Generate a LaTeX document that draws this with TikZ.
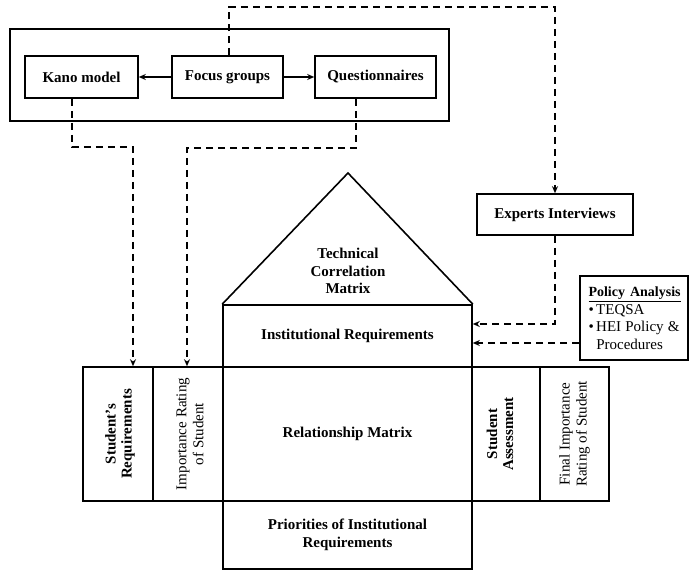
\documentclass[tikz,border=0pt]{standalone}
\usepackage{fontspec}
\setmainfont{Liberation Serif}
\usetikzlibrary{arrows.meta}
\begin{document}
\begin{tikzpicture}[x=1pt,y=-1pt,
  box/.style={draw, line width=1.6pt, inner sep=0pt, align=center,
    font=\bfseries\fontsize{15}{17.5}\selectfont},
  frame/.style={draw, line width=2pt, inner sep=0pt},
  lbl/.style={align=center, font=\bfseries\fontsize{15}{17.5}\selectfont},
  vlbl/.style={rotate=90, align=center, inner sep=0pt,
    font=\fontsize{15}{17}\selectfont},
  dashlink/.style={line width=1.8pt, dash pattern=on 7pt off 5pt,
    -{Stealth[length=7pt,width=6pt]}},
  solidlink/.style={line width=1.6pt, -{Stealth[length=7pt,width=6pt]}},
]
\useasboundingbox (0,0) rectangle (689,570);

% data collection group
\node[frame, minimum width=439pt, minimum height=92pt] (group) at (229.5,75) {};
\node[box, minimum width=113pt, minimum height=42pt] (kano) at (81.5,77) {Kano model};
\node[box, minimum width=111pt, minimum height=42pt] (focus) at (227.5,77) {Focus groups};
\node[box, minimum width=121pt, minimum height=42pt] (quest) at (375.5,77) {Questionnaires};
\draw[solidlink] (focus.west) -- (kano.east);
\draw[solidlink] (focus.east) -- (quest.west);

% experts and policy inputs
\node[box, minimum width=156pt, minimum height=41pt] (experts) at (555,214.5) {Experts Interviews};
\node[draw, line width=1.6pt, minimum width=108pt, minimum height=84pt,
  text width=91pt, inner xsep=8.5pt, inner ysep=0pt, align=left,
  font=\fontsize{15}{17.5}\selectfont] (policy) at (634,318)
  {{\fontsize{14}{17}\selectfont\textbf{\underline{Policy Analysis}}}\\
   \textbullet\,TEQSA\\
   \textbullet\,HEI\hfill Policy\hfill\&\\
   \hphantom{\textbullet\,}Procedures};

% house of quality
\node[box, minimum width=249pt, minimum height=62pt] (inst) at (347.5,336) {Institutional Requirements};
\coordinate (apex) at (348,173);
\draw[line width=1.6pt, line join=miter] (inst.north west) -- (apex) -- (inst.north east);
\node[lbl] (tcm) at (348,271) {Technical\\Correlation\\Matrix};
\node[box, minimum width=249pt, minimum height=134pt] (relm) at (347.5,434) {Relationship Matrix};
\node[box, minimum width=249pt, minimum height=68pt] (prio) at (347.5,535) {Priorities of Institutional\\Requirements};

\node[box, minimum width=70pt, minimum height=134pt] (sreq) at (118,434) {};
\node[box, minimum width=70pt, minimum height=134pt] (irat) at (188,434) {};
\node[box, minimum width=68pt, minimum height=134pt] (sass) at (506,434) {};
\node[box, minimum width=69pt, minimum height=134pt] (fin) at (574.5,434) {};
\node[vlbl, font=\bfseries\fontsize{15}{16}\selectfont] at ([xshift=2pt]sreq.center) {Student’s\\Requirements};
\node[vlbl] at ([xshift=2pt]irat.center) {Importance Rating\\of Student};
\node[vlbl, font=\bfseries\fontsize{15}{16}\selectfont] at ([xshift=-6pt]sass.center) {Student\\Assessment};
\node[vlbl] at (fin.center) {Final Importance\\Rating of Student};

% dashed information flows
\coordinate (kbend) at (133,147);
\coordinate (qbend) at (187,148);
\coordinate (tbend) at (555,7);
\draw[dashlink] ([xshift=-9.5pt]kano.south) |- (kbend) -- (kbend |- sreq.north);
\draw[dashlink] ([xshift=-19.5pt]quest.south) |- (qbend) -- (qbend |- irat.north);
\draw[dashlink] ([xshift=1.5pt]focus.north) |- (tbend) -- (experts.north);
\draw[dashlink] (experts.south) |- ([yshift=12pt]inst.east);
\draw[dashlink] ([yshift=-7pt]inst.east -| policy.west) -- ([yshift=-7pt]inst.east);
\end{tikzpicture}
\end{document}
